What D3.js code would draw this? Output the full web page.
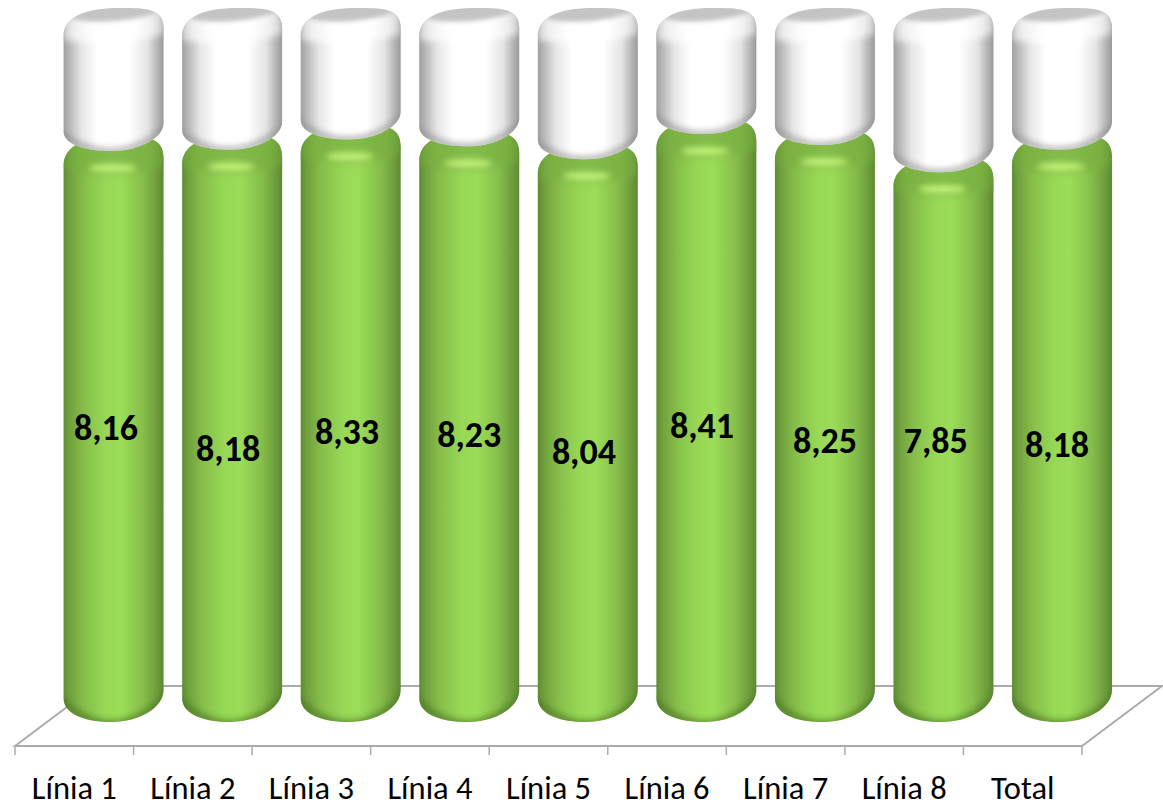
<!DOCTYPE html>
<html>
<head>
<meta charset="utf-8">
<script src="https://cdn.jsdelivr.net/npm/d3@7/dist/d3.min.js"></script>
<style>
html,body{margin:0;padding:0;background:#fff;}
svg{display:block;}
</style>
</head>
<body>
<svg id="chart" width="1163" height="807"></svg>
<script>
const categories = ["Línia 1","Línia 2","Línia 3","Línia 4","Línia 5","Línia 6","Línia 7","Línia 8","Total"];
const scores = [8.16,8.18,8.33,8.23,8.04,8.41,8.25,7.85,8.18];
const fullScale = 10;
// Hand-placed offsets of each value label from its cylinder, in pixels
const labelShiftX = [-7.6,-4,-3.7,0,-3.9,-4.4,0,-7.6,-5];
const labelShiftY = [0,21,4,7,24,-2,13,13,17];

const svg = d3.select("#chart");
const x = d3.scaleBand().domain(categories).range([15,1082]).paddingInner(0).paddingOuter(0);
const y = d3.scaleLinear().domain([0,fullScale]).range([697,17]);
const stacked = d3.stack().keys(["score","rest"])(
  categories.map((c,i)=>({category:c,score:scores[i],rest:fullScale-scores[i]}))
);

const depthShift = 39, barW = 100;
const barLeft = c => x(c)+x.bandwidth()/2+depthShift-barW/2+0.3;
const fmt = d3.formatLocale({decimal:",",thousands:".",grouping:[3],currency:["","€"]}).format(".2f");

const defs = svg.append("defs");
function sideGradient(id,stops){
  const g = defs.append("linearGradient").attr("id",id).attr("x1",0).attr("x2",1).attr("y1",0).attr("y2",0);
  stops.forEach(([o,c])=>g.append("stop").attr("offset",o).attr("stop-color",c));
}
sideGradient("greenBody",[[0,"#5f8c34"],[0.06,"#70a03d"],[0.2,"#86bd4a"],[0.42,"#98d856"],[0.58,"#9bdc58"],[0.8,"#86bd4a"],[0.94,"#6c9b3b"],[1,"#5c8832"]]);
sideGradient("greenBand",[[0,"#6a9a39"],[0.12,"#7ab142"],[0.5,"#84bd4a"],[0.88,"#7ab142"],[1,"#6a9a39"]]);
sideGradient("whiteBody",[[0,"#a0a0a0"],[0.05,"#b4b4b4"],[0.18,"#e6e6e6"],[0.34,"#ffffff"],[0.66,"#ffffff"],[0.84,"#e4e4e4"],[0.95,"#b0b0b0"],[1,"#9a9a9a"]]);
sideGradient("whiteBand",[[0,"#cfcfcf"],[0.1,"#f0f0f0"],[0.3,"#ffffff"],[0.72,"#ffffff"],[0.9,"#eeeeee"],[1,"#c8c8c8"]]);
[["blur1",1.2],["blur2",2],["blur3",3]].forEach(([id,s])=>
  defs.append("filter").attr("id",id).attr("x","-30%").attr("y","-100%").attr("width","160%").attr("height","300%")
    .append("feGaussianBlur").attr("stdDeviation",s));

// Floor of the 3D plot area and its category ticks
const floorY = 746, backY = 686, floorSkew = 80;
const [fx0,fx1] = x.range();
const axisGrey = "#ababab";
svg.append("path")
  .attr("d",d3.line()([[fx0,floorY],[fx0+floorSkew,backY],[fx1+floorSkew,backY],[fx1,floorY]])+"Z")
  .attr("fill","#fff").attr("stroke",axisGrey).attr("stroke-width",2);
svg.selectAll("line.edge").data([...categories.map(c=>x(c)),fx1]).join("line")
  .attr("class","edge").attr("x1",d=>d).attr("x2",d=>d).attr("y1",floorY).attr("y2",floorY+9)
  .attr("stroke",axisGrey).attr("stroke-width",1.5);

// Category labels come from the band axis
const axis = svg.append("g").attr("transform",`translate(0,${floorY})`)
  .call(d3.axisBottom(x).tickSize(0).tickPadding(30));
axis.select(".domain").remove();
axis.selectAll("text").attr("font-family","Carlito, Lato, sans-serif").attr("font-size",32.5).attr("fill","#000");

// Rounded cylinder outline; tilt lifts the right side above the left one
function tube(l,w,top,bottom,rTop,rBot,tilt){
  const r = l+w, m = l+w/2;
  const yl = top+rTop+tilt/2, yr = top+rTop-tilt/2;
  const bl = bottom-rBot+tilt/2, br = bottom-rBot-tilt/2;
  return `M${l},${yl}C${l},${yl-rTop*0.75} ${m-w*0.30},${top} ${m+6},${top}`
    +`C${m+w*0.30},${top} ${r},${yr-rTop*0.85} ${r},${yr}`
    +`L${r},${br}C${r},${br+rBot*0.62} ${m+w*0.26},${bottom} ${m-2},${bottom}`
    +`C${m-w*0.26},${bottom} ${l},${bl+rBot*0.62} ${l},${bl}Z`;
}

function drawCylinder(g,id,c,top,bottom,rTop,rBot,fill){
  const d = tube(barLeft(c),barW,top,bottom,rTop,rBot,8);
  defs.append("clipPath").attr("id",id).append("path").attr("d",d);
  g.append("path").attr("d",d).attr("fill",fill);
  return g.append("g").attr("clip-path",`url(#${id})`);
}
const arc = (l,w,yL,yMid,yR)=>`M${l},${yL}Q${l+w/2},${yMid*2-(yL+yR)/2} ${l+w},${yR}`;

categories.forEach((c,i)=>{
  const vTop = stacked[0][i][1];
  const yv = y(vTop), l = barLeft(c), w = barW, m = l+w/2;
  const bar = svg.append("g").attr("class","bar");

  // Green cylinder, value part
  const gTop = yv-6, gBot = y(0)+25;
  const green = drawCylinder(bar,`g${i}`,c,gTop,gBot,26,28,"url(#greenBody)");
  // shoulder band with its highlight
  green.append("path").attr("d",`M${l},${yv-10}H${l+w}V${yv+24}Q${m+2},${yv+40} ${l},${yv+27}Z`)
    .attr("fill","url(#greenBand)").attr("filter","url(#blur3)");
  green.append("ellipse").attr("cx",m-1).attr("cy",yv+26).attr("rx",24).attr("ry",4)
    .attr("fill","#c4f57a").attr("filter","url(#blur3)");
  // dark rim under the base
  green.append("path").attr("d",arc(l-4,w+8,y(0)+3,gBot+2,y(0)-1))
    .attr("fill","none").attr("stroke","#4f7a28").attr("stroke-width",7).attr("opacity",0.8).attr("filter","url(#blur3)");

  // White cylinder, remainder up to the full scale
  const wTop = y(stacked[1][i][1])-9, wBot = yv+9;
  const white = drawCylinder(bar,`w${i}`,c,wTop,wBot,24,24,"url(#whiteBody)");
  // white bevel with the grey top face over it
  white.append("path").attr("d",`M${l},${wTop-6}H${l+w}V${wTop+26}Q${m},${wTop+40} ${l},${wTop+32}Z`)
    .attr("fill","url(#whiteBand)").attr("filter","url(#blur3)");
  white.append("ellipse").attr("cx",m+2).attr("cy",wTop+4).attr("rx",46).attr("ry",9)
    .attr("transform",`rotate(-5 ${m+2} ${wTop+4})`)
    .attr("fill","#c4c4c4").attr("filter","url(#blur2)");
  // shaded lower rim
  white.append("path").attr("d",arc(l-4,w+8,wBot-18,wBot,wBot-24))
    .attr("fill","none").attr("stroke","#8a8a8a").attr("stroke-width",5).attr("opacity",0.75).attr("filter","url(#blur3)");
});

// Value labels
svg.selectAll("text.value").data(categories).join("text")
  .attr("class","value")
  .attr("x",(c,i)=>barLeft(c)+barW/2+labelShiftX[i])
  .attr("y",(c,i)=>440+labelShiftY[i])
  .attr("text-anchor","middle")
  .attr("font-family","Carlito, Lato, sans-serif").attr("font-weight",700).attr("font-size",36)
  .attr("fill","#000")
  .text((c,i)=>fmt(scores[i]));
</script>
</body>
</html>
